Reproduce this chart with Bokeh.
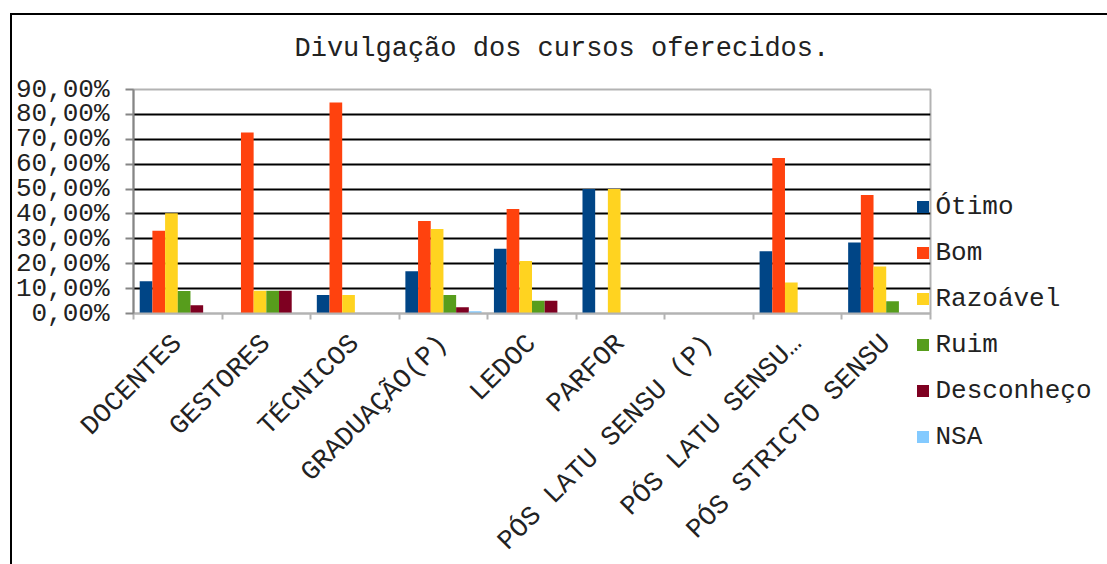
import math
from bokeh.plotting import figure
from bokeh.models import (Range1d, FixedTicker, LinearAxis, Legend, LegendItem,
                          ColumnDataSource, Grid, Title)
from bokeh.embed import file_html
from bokeh.resources import INLINE

# ---------------- data ----------------
categories = ["DOCENTES", "GESTORES", "TÉCNICOS", "GRADUAÇÃO(P)", "LEDOC", "PARFOR",
              "PÓS LATU SENSU (P)", "PÓS LATU SENSU…", "PÓS STRICTO SENSU"]
series_names = ["Ótimo", "Bom", "Razoável", "Ruim", "Desconheço", "NSA"]
otimo = [13.0, 0.0, 7.4, 17.0, 26.0, 50.0, 0.0, 25.0, 28.5]
bom = [33.2, 72.7, 84.8, 37.2, 42.0, 0.0, 0.0, 62.5, 47.6]
razoavel = [40.3, 9.1, 7.4, 34.0, 21.1, 50.0, 0.0, 12.5, 18.9]
ruim = [9.0, 9.1, 0.0, 7.4, 5.1, 0.0, 0.0, 0.0, 4.9]
desconheco = [3.3, 9.1, 0.0, 2.5, 5.1, 0.0, 0.0, 0.0, 0.0]
nsa = [0.0, 0.0, 0.0, 0.9, 0.0, 0.0, 0.0, 0.0, 0.0]
series_values = [otimo, bom, razoavel, ruim, desconheco, nsa]
colors = ["#004586", "#ff420e", "#ffd320", "#579d1c", "#7e0021", "#83caff"]
y_ticks = [0, 10, 20, 30, 40, 50, 60, 70, 80, 90]
y_tick_labels = ["0,00%", "10,00%", "20,00%", "30,00%", "40,00%",
                 "50,00%", "60,00%", "70,00%", "80,00%", "90,00%"]
title_text = "Divulgação dos cursos oferecidos."

FONT = "Liberation Mono"
TXT = "#222222"

n_cat = len(categories)
centers = [float(i) + 0.5 for i in range(n_cat)]
boundaries = [float(i) for i in range(n_cat + 1)]
bar_w = 0.1433

p = figure(frame_width=797, frame_height=224,
           x_range=Range1d(0, n_cat), y_range=Range1d(0, y_ticks[-1]),
           output_backend="svg", toolbar_location=None,
           x_axis_type=None, y_axis_type=None,
           min_border_left=121, min_border_right=0,
           min_border_top=74, min_border_bottom=0)
p.styles = {"margin-top": "13px", "margin-left": "10px",
            "border-top": "2px solid black", "border-left": "2px solid black"}
p.background_fill_color = "white"
p.border_fill_color = "white"
p.outline_line_color = "#b3b3b3"
p.outline_line_width = 2

# grid
grid = Grid(dimension=1, ticker=FixedTicker(ticks=y_ticks[1:-1]),
            grid_line_color="black", grid_line_width=2)
p.add_layout(grid)

# y axis
yaxis = LinearAxis(ticker=FixedTicker(ticks=y_ticks),
                   major_label_overrides={t: l for t, l in zip(y_ticks, y_tick_labels)},
                   axis_line_color="#868686", axis_line_width=2,
                   major_tick_line_color="#868686", major_tick_line_width=2,
                   major_tick_in=0, major_tick_out=8,
                   minor_tick_line_color=None,
                   major_label_standoff=16,
                   major_label_text_font=FONT,
                   major_label_text_font_size="26px",
                   major_label_text_color=TXT)
p.add_layout(yaxis, "left")

# x axis
xaxis = LinearAxis(ticker=FixedTicker(ticks=centers, minor_ticks=boundaries),
                   major_label_overrides={c: l for c, l in zip(centers, categories)},
                   axis_line_color="#b3b3b3", axis_line_width=2,
                   major_tick_line_color=None, major_tick_in=0, major_tick_out=6,
                   minor_tick_line_color="#b3b3b3", minor_tick_line_width=2,
                   minor_tick_in=0, minor_tick_out=6,
                   major_label_orientation=math.pi / 4,
                   major_label_standoff=20,
                   major_label_text_font=FONT,
                   major_label_text_font_size="27px",
                   major_label_text_color=TXT)
p.add_layout(xaxis, "below")

# bars
renderers = []
for i, (name, vals, col) in enumerate(zip(series_names, series_values, colors)):
    xs = [c + (i - (len(series_names) - 1) / 2) * bar_w for c in centers]
    src = ColumnDataSource(dict(x=xs, top=vals))
    r = p.vbar(x="x", top="top", bottom=0, width=bar_w, source=src,
               fill_color=col, line_color=None)
    renderers.append(r)

legend = Legend(items=[LegendItem(label=n, renderers=[r]) for n, r in zip(series_names, renderers)],
                location=(-15.5, -138.5), orientation="vertical",
                padding=0, margin=0, spacing=16,
                glyph_width=15, glyph_height=15, label_height=30,
                label_standoff=6,
                border_line_color=None, background_fill_alpha=0,
                label_text_font=FONT, label_text_font_size="26px",
                label_text_color=TXT)
p.add_layout(legend, "right")

# title (a thin spacer keeps the title clear of the plot area)
spacer = Title(text=" ", standoff=20, text_font_size="2px")
p.add_layout(spacer, "above")
title = Title(text=title_text, align="left", offset=161, standoff=0,
              vertical_align="top",
              text_font=FONT, text_font_size="27px", text_font_style="normal",
              text_color=TXT)
p.add_layout(title, "above")

open("out.html", "w").write(file_html(p, INLINE))
